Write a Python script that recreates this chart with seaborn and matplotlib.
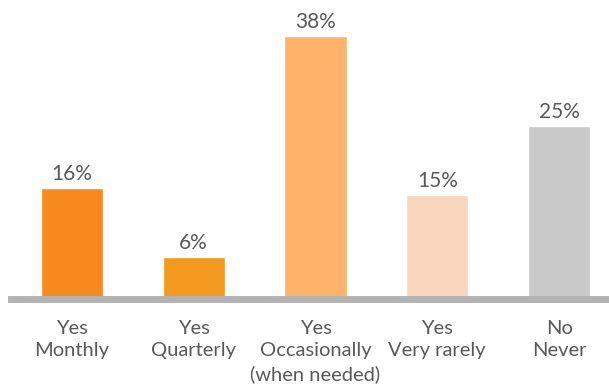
import matplotlib
matplotlib.use("Agg")
import matplotlib.pyplot as plt
import seaborn as sns
import pandas as pd

categories = ["Yes\nMonthly", "Yes\nQuarterly", "Yes\nOccasionally\n(when needed)",
              "Yes\nVery rarely", "No\nNever"]
values = [16, 6, 38, 15, 25]
colors = ["#F7891E", "#F39A1E", "#FDB46A", "#F8D6BE", "#C9C9C9"]

df = pd.DataFrame({"category": categories, "value": values})

sns.set_style("white")
plt.rcParams["font.family"] = ["Lato", "DejaVu Sans"]

fig = plt.figure(figsize=(6.09, 3.88), dpi=100)
ax = fig.add_axes([11 / 609, 89 / 388, 598 / 609, 277 / 388])

sns.barplot(data=df, x="category", y="value", hue="category", palette=colors,
            width=0.51, legend=False, ax=ax, saturation=1)

ax.set_xlim(-0.5, 4.41)
ax.set_ylim(0, 40)
ax.set_xlabel("")
ax.set_ylabel("")
ax.set_yticks([])
for s in ["top", "right", "left"]:
    ax.spines[s].set_visible(False)
ax.spines["bottom"].set_color("#B3B3B3")
ax.spines["bottom"].set_linewidth(5)
ax.tick_params(axis="x", length=0, pad=15, labelsize=14.5, labelcolor="#595959")
for lbl in ax.get_xticklabels():
    lbl.set_linespacing(1.38)

for i, v in enumerate(values):
    ax.annotate(f"{v}%", (i, v), xytext=(0, 3), textcoords="offset points",
                ha="center", va="bottom", fontsize=15, color="#595959")

fig.savefig("out.png", dpi=100)
